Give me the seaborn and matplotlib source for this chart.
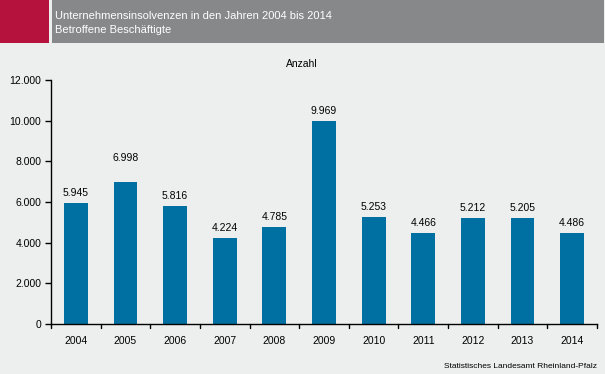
import matplotlib
matplotlib.use("Agg")
import matplotlib.pyplot as plt
import seaborn as sns
import pandas as pd
from matplotlib.patches import Rectangle

years = ["2004", "2005", "2006", "2007", "2008", "2009", "2010", "2011", "2012", "2013", "2014"]
values = [5945, 6998, 5816, 4224, 4785, 9969, 5253, 4466, 5212, 5205, 4486]
labels = ["5.945", "6.998", "5.816", "4.224", "4.785", "9.969", "5.253", "4.466", "5.212", "5.205", "4.486"]
yticks = [0, 2000, 4000, 6000, 8000, 10000, 12000]
ytick_labels = ["0", "2.000", "4.000", "6.000", "8.000", "10.000", "12.000"]

sns.set_theme(style="white")
plt.rcParams['font.family'] = ['Liberation Sans', 'DejaVu Sans']

bg = "#EDEFEE"
fig = plt.figure(figsize=(6.05, 3.74), dpi=100, facecolor=bg)
ax = fig.add_axes([51/605, 50/374, 546/605, 244/374])
ax.set_facecolor(bg)

df = pd.DataFrame({"Jahr": years, "Wert": values})
sns.barplot(data=df, x="Jahr", y="Wert", color="#0070A2", width=0.48, ax=ax, saturation=1,
            linewidth=0, edgecolor="none")

ax.set_ylim(0, 12000)
ax.set_xlim(-0.5, len(years) - 0.5)
ax.set_yticks(yticks)
ax.set_yticklabels(ytick_labels, fontsize=7.5, color="#000000")
ax.set_xticks(range(len(years)))
ax.set_xticklabels(years, fontsize=7.5, color="#000000")
ax.set_xlabel("")
ax.set_ylabel("")

for s in ["top", "right"]:
    ax.spines[s].set_visible(False)
for s in ["left", "bottom"]:
    ax.spines[s].set_color("#000000")
    ax.spines[s].set_linewidth(1.0)

ax.tick_params(axis="y", direction="out", length=4, width=1, color="#000000", left=True, pad=3)
ax.tick_params(axis="x", bottom=False, pad=3)
# category boundary ticks on x axis
for b in [i - 0.5 for i in range(len(years) + 1)]:
    ax.plot([b, b], [0, -4/244], transform=ax.get_xaxis_transform(), color="#000000", lw=1, clip_on=False)

for i, (v, lab) in enumerate(zip(values, labels)):
    off = 24 if years[i] == "2005" else 10
    ax.annotate(lab, (i, v), xytext=(0, off - 5), textcoords="offset pixels",
                ha="center", va="bottom", fontsize=7.5, color="#000000")

fig.text(302/605, 1 - 64/374, "Anzahl", ha="center", va="center", fontsize=7.5, color="#000000")
fig.text(597/605, 1 - 366/374, "Statistisches Landesamt Rheinland-Pfalz", ha="right", va="center",
         fontsize=6, color="#000000")

# header
fig.patches.append(Rectangle((0, 1 - 43/374), 49/605, 43/374, transform=fig.transFigure,
                             facecolor="#B5123E", edgecolor="none"))
fig.patches.append(Rectangle((52/605, 1 - 43/374), 552/605, 43/374, transform=fig.transFigure,
                             facecolor="#87888A", edgecolor="none"))
fig.text(55/605, 1 - 16/374, "Unternehmensinsolvenzen in den Jahren 2004 bis 2014", ha="left", va="center",
         fontsize=8, color="white")
fig.text(55/605, 1 - 30/374, "Betroffene Beschäftigte", ha="left", va="center", fontsize=8, color="white")

fig.savefig("out.png", dpi=100, facecolor=bg)
